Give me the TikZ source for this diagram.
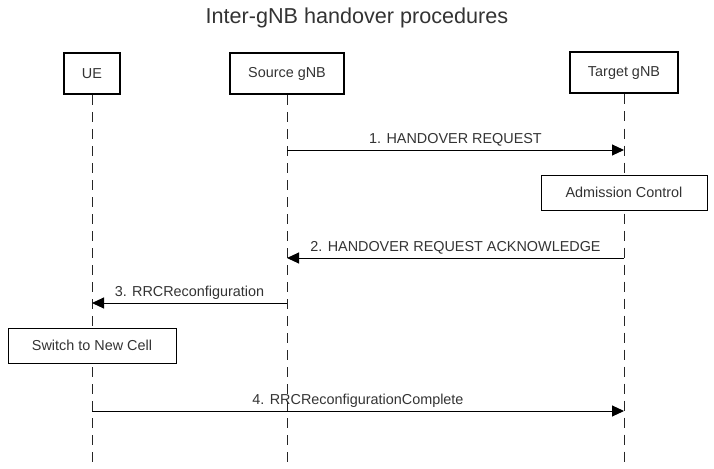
\documentclass[tikz,border=0pt]{standalone}
\usepackage{fontspec}
\setmainfont{Liberation Sans}
\usetikzlibrary{arrows.meta,positioning}

\def\msgone{150}
\def\msgtwo{258}
\def\msgthree{303}
\def\msgfour{411}

\begin{document}
\begin{tikzpicture}[x=1pt,y=-1pt,>={Triangle[length=12pt,width=11pt]},
    font=\fontsize{14.4}{17}\selectfont, text=black!80]
    \tikzstyle{actor}=[draw=black, line width=2pt, minimum height=41pt, inner sep=0pt]
    \tikzstyle{action}=[draw=black, line width=0.8pt, minimum height=35pt, inner sep=0pt]
    \tikzstyle{lifeline}=[draw=black!85, line width=1pt, dash pattern=on 10pt off 7pt]
    \tikzstyle{msg}=[->, draw=black, line width=1pt]
    \tikzstyle{msglabel}=[anchor=base, yshift=7pt, inner sep=0pt]

    \useasboundingbox (0,0) rectangle (714,468);

    % Title
    \node[font=\fontsize{21.6}{26}\selectfont] (title) at (357,18) {Inter-gNB handover procedures};

    % Draw the actor boxes
    \node[actor, minimum width=56pt] (UE) at (92,73.5) {UE};
    \node[actor, minimum width=114pt] (SRC) at (287,73.5) {Source gNB};
    \node[actor, minimum width=108pt] (TGT) at (624,73) {Target gNB};

    % Draw the lifelines down to the bottom edge
    \coordinate (bottom) at (0,468);
    \foreach \name in {UE,SRC,TGT}
        \path[lifeline] (\name.south) -- (\name.south |- bottom);

    % Local actions on the lifelines
    \node[action, minimum width=166pt, fill=white] (admit) at (624,192.5) {Admission Control};
    \node[action, minimum width=168pt, fill=white] (switch) at (92,345.5) {Switch to New Cell};

    % Rows of the messages
    \coordinate (m1) at (0,\msgone);
    \coordinate (m2) at (0,\msgtwo);
    \coordinate (m3) at (0,\msgthree);
    \coordinate (m4) at (0,\msgfour);

    % Draw the messages between the lifelines
    \draw[msg] (SRC |- m1) -- node[msglabel] {1. HANDOVER REQUEST} (TGT |- m1);
    \draw[msg] (TGT |- m2) -- node[msglabel] {2. HANDOVER REQUEST ACKNOWLEDGE} (SRC |- m2);
    \draw[msg] (SRC |- m3) -- node[msglabel] {3. RRCReconfiguration} (UE |- m3);
    \draw[msg] (UE |- m4) -- node[msglabel] {4. RRCReconfigurationComplete} (TGT |- m4);
\end{tikzpicture}
\end{document}
